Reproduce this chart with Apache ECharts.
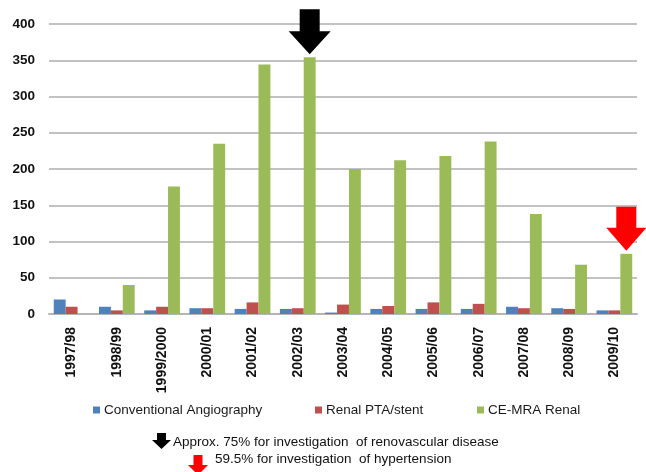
<!DOCTYPE html>
<html>
<head>
<meta charset="utf-8">
<script src="https://cdn.jsdelivr.net/npm/echarts@6/dist/echarts.min.js"></script>
<style>
  html, body { margin: 0; padding: 0; background: #fff; }
  #chart { width: 646px; height: 472px; }
</style>
</head>
<body>
<div id="chart"></div>
<script>
// Renal imaging procedures per financial year
const years = ['1997/98', '1998/99', '1999/2000', '2000/01', '2001/02', '2002/03', '2003/04',
  '2004/05', '2005/06', '2006/07', '2007/08', '2008/09', '2009/10'];
const conventionalAngiography = [20, 10, 5, 8, 7, 7, 2, 7, 7, 7, 10, 8, 5];
const renalPtaStent = [10, 5, 10, 8, 16, 8, 13, 11, 16, 14, 8, 7, 5];
const ceMraRenal = [0, 40, 176, 235, 344, 354, 200, 212, 218, 238, 138, 68, 83];
const seriesNames = ['Conventional Angiography', 'Renal PTA/stent', 'CE-MRA Renal'];
const yTicks = { min: 0, max: 400, step: 50 };
const noteLines = [
  'Approx. 75% for investigation  of renovascular disease',
  '59.5% for investigation  of hypertension'
];
// highlighted years: renovascular peak and hypertension share
const highlightBlack = '2002/03';
const highlightRed = '2009/10';

const colors = ['#4F81BD', '#C0504D', '#9BBB59'];
const FONT = '"Liberation Sans", Arial, sans-serif';

const chart = echarts.init(document.getElementById('chart'), null, { renderer: 'canvas' });

function legendFor(i, left) {
  return {
    data: [seriesNames[i]],
    left: left,
    top: 403,
    icon: 'rect',
    itemWidth: 7,
    itemHeight: 7,
    itemGap: 0,
    padding: 0,
    textStyle: { fontFamily: FONT, fontSize: 13.5, color: '#1a1a1a', padding: [0, 0, 0, -1] }
  };
}

const option = {
  animation: false,
  backgroundColor: '#fff',
  color: colors,
  grid: { left: 49, right: 9, top: 24, bottom: 158, containLabel: false },
  legend: [legendFor(0, 93), legendFor(1, 315), legendFor(2, 477)],
  xAxis: {
    type: 'category',
    data: years,
    axisLine: { show: true, lineStyle: { color: '#b5b5b5', width: 2 } },
    axisTick: { show: false },
    axisLabel: {
      rotate: 90,
      interval: 0,
      margin: 13,
      fontFamily: FONT,
      fontWeight: 'bold',
      fontSize: 14,
      color: '#111'
    }
  },
  yAxis: {
    type: 'value',
    min: yTicks.min,
    max: yTicks.max,
    interval: yTicks.step,
    axisLine: { show: false },
    axisTick: { show: false },
    axisLabel: {
      margin: 14,
      fontFamily: FONT,
      fontWeight: 'bold',
      fontSize: 13.5,
      color: '#111'
    },
    splitLine: { lineStyle: { color: '#c2c2c2', width: 2 } }
  },
  series: [
    { name: seriesNames[0], type: 'bar', data: conventionalAngiography, barGap: '0%', barCategoryGap: '21%' },
    { name: seriesNames[1], type: 'bar', data: renalPtaStent, barGap: '0%', barCategoryGap: '21%' },
    { name: seriesNames[2], type: 'bar', data: ceMraRenal, barGap: '0%', barCategoryGap: '21%' }
  ]
};

chart.setOption(option);

// Down arrow polygon with its tip at (tx, ty)
function downArrow(tx, ty, shaftW, headW, headH, totalH, fill) {
  const top = ty - totalH;
  const neck = ty - headH;
  return {
    type: 'polygon',
    shape: {
      points: [
        [tx - shaftW / 2, top], [tx + shaftW / 2, top], [tx + shaftW / 2, neck],
        [tx + headW / 2, neck], [tx, ty], [tx - headW / 2, neck], [tx - shaftW / 2, neck]
      ]
    },
    style: { fill: fill },
    z: 100
  };
}

// Place arrows above the green bars of the highlighted years
function arrowOverBar(year, fill, totalH, headH, headW) {
  const idx = years.indexOf(year);
  const top = chart.convertToPixel({ xAxisIndex: 0, yAxisIndex: 0 }, [idx, ceMraRenal[idx]]);
  const center = chart.convertToPixel({ xAxisIndex: 0 }, year);
  const catW = chart.getModel().getComponent('xAxis', 0).axis.getBandWidth();
  const barX = center + catW * 0.79 / 3;
  return downArrow(barX, top[1] - 3, 20, headW, headH, totalH, fill);
}

chart.setOption({
  graphic: [
    arrowOverBar(highlightBlack, '#000', 45, 23, 42),
    arrowOverBar(highlightRed, '#ff0000', 44, 23, 40),
    downArrow(161.5, 449, 9, 19, 9, 16, '#000'),
    downArrow(198, 475, 9, 20, 10, 20, '#ff0000'),
    {
      type: 'text', left: 173, top: 435.5, z: 100,
      style: { text: noteLines[0], font: '13.5px ' + FONT, fill: '#111' }
    },
    {
      type: 'text', left: 215, top: 452.5, z: 100,
      style: { text: noteLines[1], font: '13.5px ' + FONT, fill: '#111' }
    }
  ]
});
</script>
</body>
</html>
